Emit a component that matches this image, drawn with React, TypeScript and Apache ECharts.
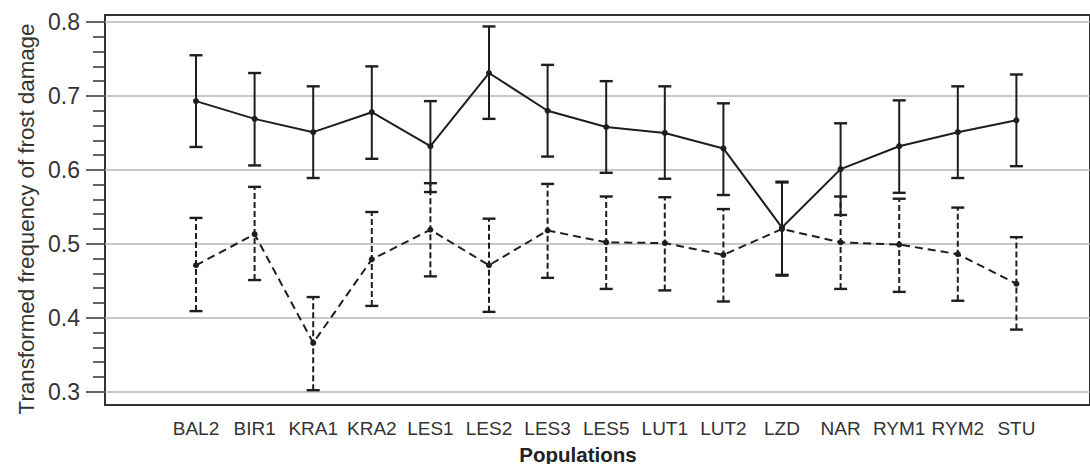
import React, { useEffect, useRef } from "react";
import * as echarts from "echarts";

const categories = ["BAL2", "BIR1", "KRA1", "KRA2", "LES1", "LES2", "LES3", "LES5", "LUT1", "LUT2", "LZD", "NAR", "RYM1", "RYM2", "STU"];

const solidMean = [0.693, 0.669, 0.651, 0.678, 0.632, 0.731, 0.680, 0.658, 0.650, 0.629, 0.522, 0.601, 0.632, 0.651, 0.667];
const solidLow = [0.631, 0.606, 0.589, 0.615, 0.570, 0.669, 0.618, 0.596, 0.588, 0.566, 0.458, 0.539, 0.569, 0.589, 0.605];
const solidHigh = [0.755, 0.731, 0.713, 0.740, 0.693, 0.794, 0.742, 0.720, 0.713, 0.690, 0.584, 0.663, 0.694, 0.713, 0.729];

const dashMean = [0.471, 0.513, 0.366, 0.479, 0.519, 0.471, 0.518, 0.502, 0.501, 0.485, 0.520, 0.502, 0.499, 0.486, 0.446];
const dashLow = [0.409, 0.451, 0.302, 0.416, 0.456, 0.408, 0.454, 0.439, 0.437, 0.422, 0.457, 0.439, 0.435, 0.423, 0.384];
const dashHigh = [0.535, 0.577, 0.428, 0.543, 0.582, 0.534, 0.581, 0.564, 0.563, 0.547, 0.583, 0.564, 0.561, 0.549, 0.509];

const yMin = 0.3;
const yMax = 0.8;
const yInterval = 0.1;

const yTitle = "Transformed frequency of frost damage";
const xTitle = "Populations";

const FONT = "'Liberation Sans', Arial, Helvetica, sans-serif";
const INK = "#1e1e1e";

function errorBarSeries(low: number[], high: number[], dashed: boolean, z: number) {
  return {
    type: "custom",
    xAxisIndex: 1,
    yAxisIndex: 1,
    z,
    silent: true,
    encode: { x: 0, y: [1, 2] },
    data: categories.map((_, i) => [i, low[i], high[i]]),
    renderItem: (params: any, api: any) => {
      const i = api.value(0);
      const pLo = api.coord([i, api.value(1)]);
      const pHi = api.coord([i, api.value(2)]);
      const hw = 6.5;
      const barStyle: any = { stroke: INK, lineWidth: 2, fill: null };
      if (dashed) barStyle.lineDash = [6, 3];
      const capStyle: any = { stroke: INK, lineWidth: 2.4, fill: null };
      return {
        type: "group",
        children: [
          { type: "line", shape: { x1: pLo[0], y1: pLo[1], x2: pHi[0], y2: pHi[1] }, style: barStyle },
          { type: "line", shape: { x1: pHi[0] - hw, y1: pHi[1], x2: pHi[0] + hw, y2: pHi[1] }, style: capStyle },
          { type: "line", shape: { x1: pLo[0] - hw, y1: pLo[1], x2: pLo[0] + hw, y2: pLo[1] }, style: capStyle },
        ],
      };
    },
  };
}

export default function App() {
  const ref = useRef<HTMLDivElement>(null);

  useEffect(() => {
    if (!ref.current) return;
    const chart = echarts.init(ref.current, null, { renderer: "svg" });
    const option: any = {
      animation: false,
      backgroundColor: "#ffffff",
      textStyle: { fontFamily: FONT },
      grid: [
        { left: 105, right: 0, top: 22, bottom: 72.3, show: false },
        { left: 166.7, right: 44.3, top: 22, bottom: 72.3, show: false },
        { left: 105, width: 1010, top: 15, bottom: 59, show: true, borderColor: "#333333", borderWidth: 2, backgroundColor: "transparent" },
      ],
      xAxis: [
        { gridIndex: 0, type: "value", min: 0, max: 1, show: false },
        {
          gridIndex: 1,
          type: "category",
          data: categories,
          boundaryGap: true,
          axisLine: { show: false },
          axisTick: { show: false },
          splitLine: { show: false },
          axisLabel: { color: "#333333", fontSize: 19, fontFamily: FONT, margin: 27, interval: 0 },
        },
        { gridIndex: 2, type: "value", min: 0, max: 1, show: false },
      ],
      yAxis: [
        {
          gridIndex: 0,
          type: "value",
          min: yMin,
          max: yMax,
          interval: yInterval,
          axisLine: { show: false },
          axisTick: { show: true, length: 19, lineStyle: { color: "#333333", width: 1.5 } },
          minorTick: { show: true, splitNumber: 5, length: 12, lineStyle: { color: "#333333", width: 1.5 } },
          splitLine: { show: true, lineStyle: { color: "#bcb3ad", width: 1.5 } },
          axisLabel: {
            color: "#333333",
            fontSize: 23,
            fontFamily: FONT,
            margin: 25,
            formatter: (v: number) => v.toFixed(1),
          },
        },
        { gridIndex: 1, type: "value", min: yMin, max: yMax, show: false },
        { gridIndex: 2, type: "value", min: 0, max: 1, show: false },
      ],
      graphic: [
        {
          type: "text",
          x: 26,
          y: 219,
          rotation: Math.PI / 2,
          style: {
            text: yTitle,
            fontSize: 22.3,
            fontFamily: FONT,
            fill: "#333333",
            textAlign: "center",
            textVerticalAlign: "middle",
          },
        },
        {
          type: "text",
          x: 578,
          y: 454,
          style: {
            text: xTitle,
            fontSize: 20.5,
            fontWeight: "bold",
            fontFamily: FONT,
            fill: "#222222",
            textAlign: "center",
            textVerticalAlign: "middle",
          },
        },
      ],
      series: [
        errorBarSeries(dashLow, dashHigh, true, 2),
        {
          type: "line",
          xAxisIndex: 1,
          yAxisIndex: 1,
          z: 3,
          data: dashMean,
          symbol: "circle",
          symbolSize: 6,
          itemStyle: { color: INK },
          lineStyle: { color: INK, width: 2, type: [8, 5] },
          silent: true,
        },
        errorBarSeries(solidLow, solidHigh, false, 4),
        {
          type: "line",
          xAxisIndex: 1,
          yAxisIndex: 1,
          z: 5,
          data: solidMean,
          symbol: "circle",
          symbolSize: 6,
          itemStyle: { color: INK },
          lineStyle: { color: INK, width: 2, type: "solid" },
          silent: true,
        },
      ],
    };
    chart.setOption(option);
    return () => {
      chart.dispose();
    };
  }, []);

  return (
    <div
      ref={ref}
      style={{ position: "fixed", left: 0, top: 0, width: 1090, height: 464, background: "#ffffff", overflow: "hidden" }}
    />
  );
}
